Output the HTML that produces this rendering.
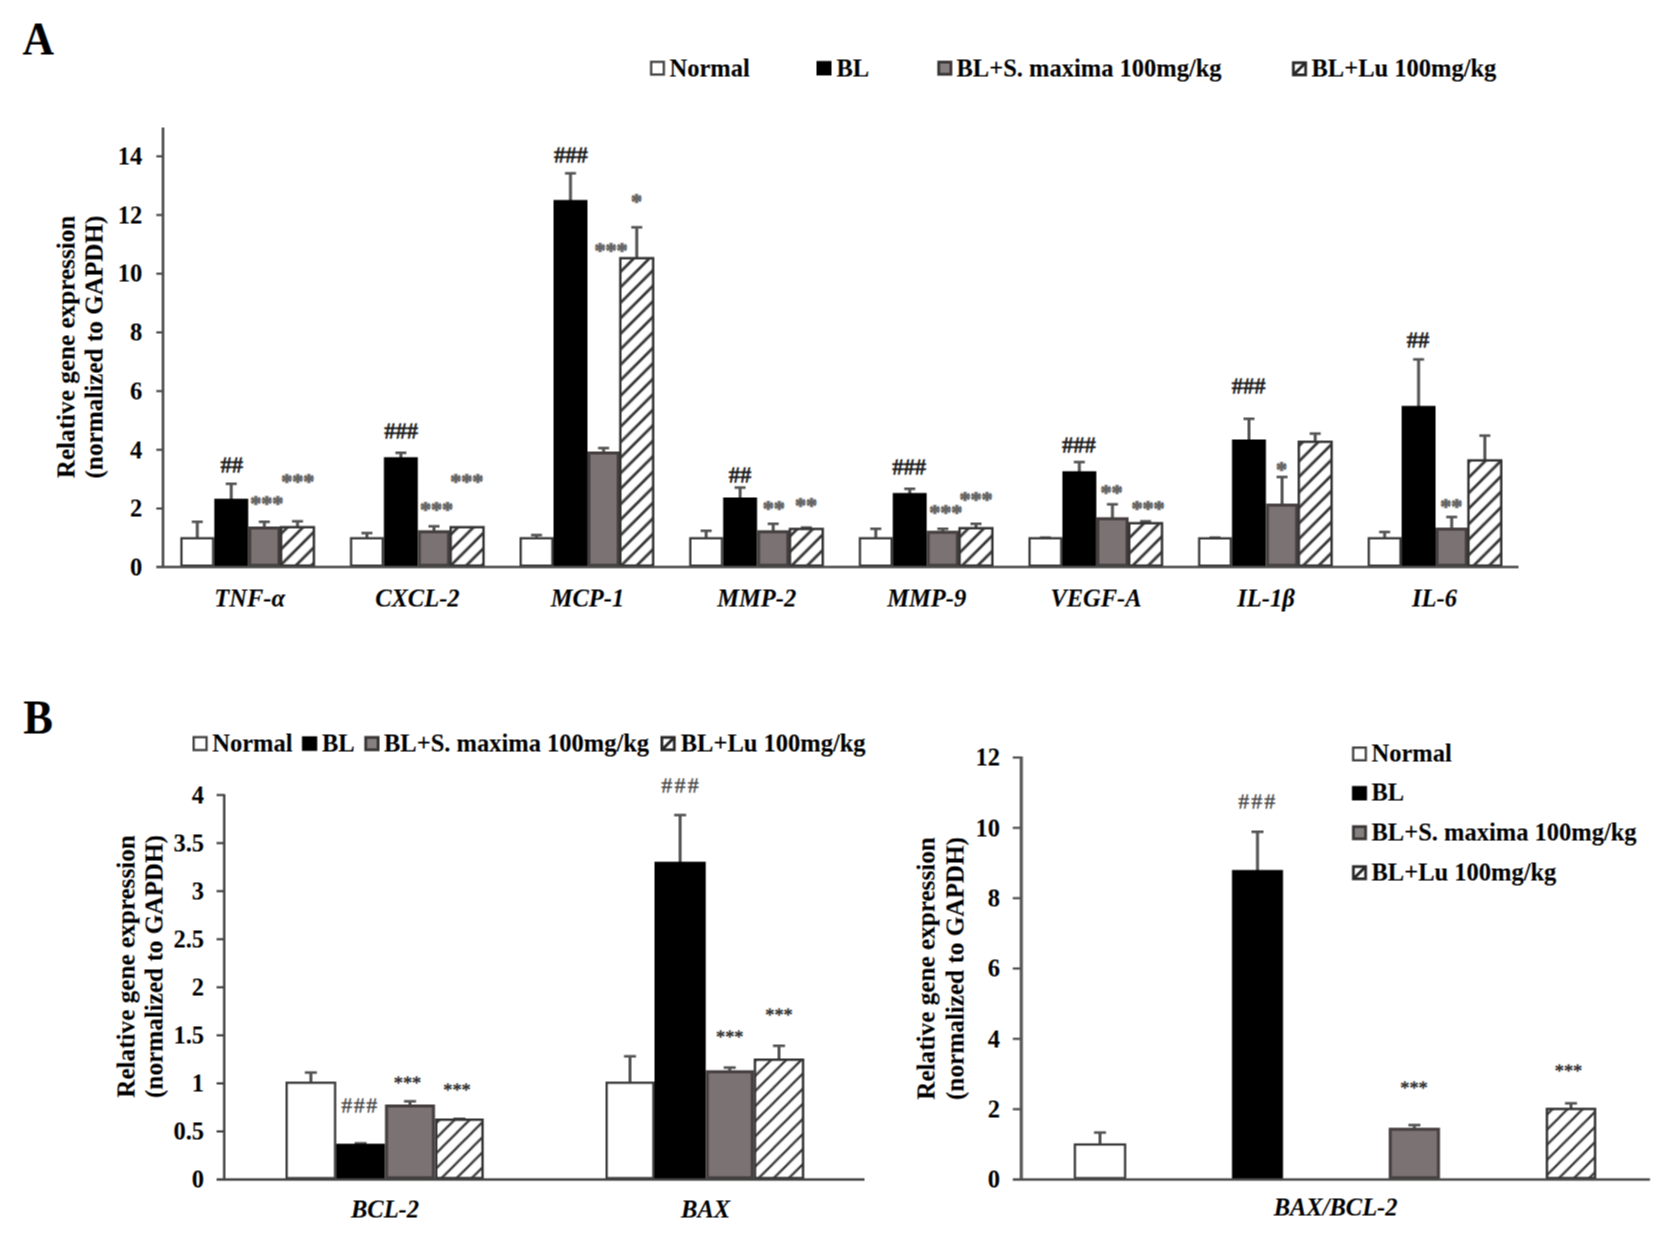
<!DOCTYPE html>
<html lang="en"><head><meta charset="utf-8"><title>Figure</title>
<style>html,body{margin:0;padding:0;background:#fff}body{width:1680px;height:1239px;overflow:hidden}svg{display:block}text{font-family:'Liberation Serif', 'DejaVu Serif', serif}</style></head><body>
<svg width="1680" height="1239" viewBox="0 0 1680 1239">
<defs><pattern id="hatch" patternUnits="userSpaceOnUse" width="15.5" height="15.5" patternTransform="translate(8.8 0)"><rect width="15.5" height="15.5" fill="#fff"/><path d="M-7.75 7.75L7.75 -7.75M0 15.5L15.5 0M7.75 23.25L23.25 7.75" stroke="#333" stroke-width="2.7"/></pattern><pattern id="hatchB" patternUnits="userSpaceOnUse" width="15.1" height="15.1" patternTransform="translate(4 0)"><rect width="15.1" height="15.1" fill="#fff"/><path d="M-7.55 7.55L7.55 -7.55M0 15.1L15.1 0M7.55 22.65L22.65 7.55" stroke="#333" stroke-width="2.2"/></pattern></defs>
<rect width="1680" height="1239" fill="#fff"/>
<g id="fig" transform="translate(-0.5 -0.5)">
<rect x="-2" y="-2" width="1684" height="1243" fill="#fff"/>
<text transform="translate(22.6 54.4) scale(1 1.07)" font-size="43.6" font-weight="bold">A</text>
<text transform="translate(23.2 733.6) scale(1 1.07)" font-size="44.5" font-weight="bold">B</text>
<rect x="651.15" y="61.85" width="12.70" height="12.70" fill="#fff" stroke="#444" stroke-width="2.3"/>
<text x="669.50" y="76.60" font-size="24.5" text-anchor="start" font-weight="bold" font-style="normal" fill="#000" >Normal</text>
<rect x="816.50" y="61.00" width="15.00" height="14.40" fill="#000"/>
<text x="836.50" y="76.60" font-size="24.5" text-anchor="start" font-weight="bold" font-style="normal" fill="#000" >BL</text>
<rect x="938.70" y="62.10" width="12.20" height="12.20" fill="#857f7f" stroke="#3a3636" stroke-width="2.8"/>
<text x="956.50" y="76.60" font-size="24.5" text-anchor="start" font-weight="bold" font-style="normal" fill="#000" >BL+S. maxima 100mg/kg</text>
<rect x="1293.40" y="62.70" width="12.20" height="12.20" fill="#fff" stroke="#2a2a2a" stroke-width="2.8"/>
<path d="M1294.50 73.80L1304.50 63.80" stroke="#2a2a2a" stroke-width="3"/>
<text x="1311.50" y="76.60" font-size="24.5" text-anchor="start" font-weight="bold" font-style="normal" fill="#000" >BL+Lu 100mg/kg</text>
<path d="M197.30 538.50V521.50" stroke="#555" stroke-width="3" fill="none"/>
<path d="M191.80 521.80H202.80" stroke="#555" stroke-width="2.6" fill="none"/>
<rect x="181.45" y="538.25" width="31.70" height="27.40" fill="#fff" stroke="#3c3c3c" stroke-width="2.3"/>
<path d="M231.25 499.75V483.50" stroke="#555" stroke-width="3" fill="none"/>
<path d="M225.75 483.80H236.75" stroke="#555" stroke-width="2.6" fill="none"/>
<rect x="214.30" y="498.75" width="33.90" height="68.25" fill="#000"/>
<path d="M264.35 528.50V521.50" stroke="#555" stroke-width="3" fill="none"/>
<path d="M258.85 521.80H269.85" stroke="#555" stroke-width="2.6" fill="none"/>
<rect x="249.70" y="528.00" width="29.30" height="37.30" fill="#7b7373" stroke="#463f3f" stroke-width="3"/>
<path d="M297.50 528.00V521.00" stroke="#555" stroke-width="3" fill="none"/>
<path d="M292.00 521.30H303.00" stroke="#555" stroke-width="2.6" fill="none"/>
<rect x="281.10" y="527.20" width="32.80" height="38.40" fill="url(#hatch)" stroke="#333" stroke-width="2.4"/>
<text x="249.60" y="606.00" font-size="24.5" text-anchor="middle" font-weight="bold" font-style="italic" fill="#000" >TNF-α</text>
<path d="M366.92 538.50V532.75" stroke="#555" stroke-width="3" fill="none"/>
<path d="M361.42 533.05H372.42" stroke="#555" stroke-width="2.6" fill="none"/>
<rect x="351.07" y="538.25" width="31.70" height="27.40" fill="#fff" stroke="#3c3c3c" stroke-width="2.3"/>
<path d="M400.87 458.20V452.50" stroke="#555" stroke-width="3" fill="none"/>
<path d="M395.37 452.80H406.37" stroke="#555" stroke-width="2.6" fill="none"/>
<rect x="383.92" y="457.20" width="33.90" height="109.80" fill="#000"/>
<path d="M433.97 532.25V526.00" stroke="#555" stroke-width="3" fill="none"/>
<path d="M428.47 526.30H439.47" stroke="#555" stroke-width="2.6" fill="none"/>
<rect x="419.32" y="531.75" width="29.30" height="33.55" fill="#7b7373" stroke="#463f3f" stroke-width="3"/>
<rect x="450.72" y="527.20" width="32.80" height="38.40" fill="url(#hatch)" stroke="#333" stroke-width="2.4"/>
<text x="417.40" y="606.00" font-size="24.5" text-anchor="middle" font-weight="bold" font-style="italic" fill="#000" >CXCL-2</text>
<path d="M536.54 538.50V534.75" stroke="#555" stroke-width="3" fill="none"/>
<path d="M531.04 535.05H542.04" stroke="#555" stroke-width="2.6" fill="none"/>
<rect x="520.69" y="538.25" width="31.70" height="27.40" fill="#fff" stroke="#3c3c3c" stroke-width="2.3"/>
<path d="M570.49 201.00V173.00" stroke="#555" stroke-width="3" fill="none"/>
<path d="M564.99 173.30H575.99" stroke="#555" stroke-width="2.6" fill="none"/>
<rect x="553.54" y="200.00" width="33.90" height="367.00" fill="#000"/>
<path d="M603.59 453.50V447.75" stroke="#555" stroke-width="3" fill="none"/>
<path d="M598.09 448.05H609.09" stroke="#555" stroke-width="2.6" fill="none"/>
<rect x="588.94" y="453.00" width="29.30" height="112.30" fill="#7b7373" stroke="#463f3f" stroke-width="3"/>
<path d="M636.74 259.00V227.00" stroke="#555" stroke-width="3" fill="none"/>
<path d="M631.24 227.30H642.24" stroke="#555" stroke-width="2.6" fill="none"/>
<rect x="620.34" y="258.20" width="32.80" height="307.40" fill="url(#hatch)" stroke="#333" stroke-width="2.4"/>
<text x="587.40" y="606.00" font-size="24.5" text-anchor="middle" font-weight="bold" font-style="italic" fill="#000" >MCP-1</text>
<path d="M706.16 538.50V530.50" stroke="#555" stroke-width="3" fill="none"/>
<path d="M700.66 530.80H711.66" stroke="#555" stroke-width="2.6" fill="none"/>
<rect x="690.31" y="538.25" width="31.70" height="27.40" fill="#fff" stroke="#3c3c3c" stroke-width="2.3"/>
<path d="M740.11 498.50V487.25" stroke="#555" stroke-width="3" fill="none"/>
<path d="M734.61 487.55H745.61" stroke="#555" stroke-width="2.6" fill="none"/>
<rect x="723.16" y="497.50" width="33.90" height="69.50" fill="#000"/>
<path d="M773.21 532.25V523.50" stroke="#555" stroke-width="3" fill="none"/>
<path d="M767.71 523.80H778.71" stroke="#555" stroke-width="2.6" fill="none"/>
<rect x="758.56" y="531.75" width="29.30" height="33.55" fill="#7b7373" stroke="#463f3f" stroke-width="3"/>
<path d="M806.36 529.75V527.25" stroke="#555" stroke-width="3" fill="none"/>
<path d="M800.86 527.55H811.86" stroke="#555" stroke-width="2.6" fill="none"/>
<rect x="789.96" y="528.95" width="32.80" height="36.65" fill="url(#hatch)" stroke="#333" stroke-width="2.4"/>
<text x="756.75" y="606.00" font-size="24.5" text-anchor="middle" font-weight="bold" font-style="italic" fill="#000" >MMP-2</text>
<path d="M875.78 538.50V528.50" stroke="#555" stroke-width="3" fill="none"/>
<path d="M870.28 528.80H881.28" stroke="#555" stroke-width="2.6" fill="none"/>
<rect x="859.93" y="538.25" width="31.70" height="27.40" fill="#fff" stroke="#3c3c3c" stroke-width="2.3"/>
<path d="M909.73 494.00V488.50" stroke="#555" stroke-width="3" fill="none"/>
<path d="M904.23 488.80H915.23" stroke="#555" stroke-width="2.6" fill="none"/>
<rect x="892.78" y="493.00" width="33.90" height="74.00" fill="#000"/>
<path d="M942.83 532.75V528.50" stroke="#555" stroke-width="3" fill="none"/>
<path d="M937.33 528.80H948.33" stroke="#555" stroke-width="2.6" fill="none"/>
<rect x="928.18" y="532.25" width="29.30" height="33.05" fill="#7b7373" stroke="#463f3f" stroke-width="3"/>
<path d="M975.98 529.00V523.50" stroke="#555" stroke-width="3" fill="none"/>
<path d="M970.48 523.80H981.48" stroke="#555" stroke-width="2.6" fill="none"/>
<rect x="959.58" y="528.20" width="32.80" height="37.40" fill="url(#hatch)" stroke="#333" stroke-width="2.4"/>
<text x="926.75" y="606.00" font-size="24.5" text-anchor="middle" font-weight="bold" font-style="italic" fill="#000" >MMP-9</text>
<path d="M1045.40 538.50V537.30" stroke="#555" stroke-width="3" fill="none"/>
<path d="M1039.90 537.60H1050.90" stroke="#555" stroke-width="2.6" fill="none"/>
<rect x="1029.55" y="538.25" width="31.70" height="27.40" fill="#fff" stroke="#3c3c3c" stroke-width="2.3"/>
<path d="M1079.35 472.25V461.75" stroke="#555" stroke-width="3" fill="none"/>
<path d="M1073.85 462.05H1084.85" stroke="#555" stroke-width="2.6" fill="none"/>
<rect x="1062.40" y="471.25" width="33.90" height="95.75" fill="#000"/>
<path d="M1112.45 519.25V504.00" stroke="#555" stroke-width="3" fill="none"/>
<path d="M1106.95 504.30H1117.95" stroke="#555" stroke-width="2.6" fill="none"/>
<rect x="1097.80" y="518.75" width="29.30" height="46.55" fill="#7b7373" stroke="#463f3f" stroke-width="3"/>
<path d="M1145.60 524.00V521.00" stroke="#555" stroke-width="3" fill="none"/>
<path d="M1140.10 521.30H1151.10" stroke="#555" stroke-width="2.6" fill="none"/>
<rect x="1129.20" y="523.20" width="32.80" height="42.40" fill="url(#hatch)" stroke="#333" stroke-width="2.4"/>
<text x="1096.00" y="606.00" font-size="24.5" text-anchor="middle" font-weight="bold" font-style="italic" fill="#000" >VEGF-A</text>
<path d="M1215.02 538.60V537.30" stroke="#555" stroke-width="3" fill="none"/>
<path d="M1209.52 537.60H1220.52" stroke="#555" stroke-width="2.6" fill="none"/>
<rect x="1199.17" y="538.35" width="31.70" height="27.30" fill="#fff" stroke="#3c3c3c" stroke-width="2.3"/>
<path d="M1248.97 440.50V418.50" stroke="#555" stroke-width="3" fill="none"/>
<path d="M1243.47 418.80H1254.47" stroke="#555" stroke-width="2.6" fill="none"/>
<rect x="1232.02" y="439.50" width="33.90" height="127.50" fill="#000"/>
<path d="M1282.07 505.60V476.70" stroke="#555" stroke-width="3" fill="none"/>
<path d="M1276.57 477.00H1287.57" stroke="#555" stroke-width="2.6" fill="none"/>
<rect x="1267.42" y="505.10" width="29.30" height="60.20" fill="#7b7373" stroke="#463f3f" stroke-width="3"/>
<path d="M1315.22 442.60V433.30" stroke="#555" stroke-width="3" fill="none"/>
<path d="M1309.72 433.60H1320.72" stroke="#555" stroke-width="2.6" fill="none"/>
<rect x="1298.82" y="441.80" width="32.80" height="123.80" fill="url(#hatch)" stroke="#333" stroke-width="2.4"/>
<text x="1266.00" y="606.00" font-size="24.5" text-anchor="middle" font-weight="bold" font-style="italic" fill="#000" >IL-1β</text>
<path d="M1384.64 538.50V531.70" stroke="#555" stroke-width="3" fill="none"/>
<path d="M1379.14 532.00H1390.14" stroke="#555" stroke-width="2.6" fill="none"/>
<rect x="1368.79" y="538.25" width="31.70" height="27.40" fill="#fff" stroke="#3c3c3c" stroke-width="2.3"/>
<path d="M1418.59 406.90V359.10" stroke="#555" stroke-width="3" fill="none"/>
<path d="M1413.09 359.40H1424.09" stroke="#555" stroke-width="2.6" fill="none"/>
<rect x="1401.64" y="405.90" width="33.90" height="161.10" fill="#000"/>
<path d="M1451.69 529.60V516.70" stroke="#555" stroke-width="3" fill="none"/>
<path d="M1446.19 517.00H1457.19" stroke="#555" stroke-width="2.6" fill="none"/>
<rect x="1437.04" y="529.10" width="29.30" height="36.20" fill="#7b7373" stroke="#463f3f" stroke-width="3"/>
<path d="M1484.84 461.20V435.30" stroke="#555" stroke-width="3" fill="none"/>
<path d="M1479.34 435.60H1490.34" stroke="#555" stroke-width="2.6" fill="none"/>
<rect x="1468.44" y="460.40" width="32.80" height="105.20" fill="url(#hatch)" stroke="#333" stroke-width="2.4"/>
<text x="1434.50" y="606.00" font-size="24.5" text-anchor="middle" font-weight="bold" font-style="italic" fill="#000" >IL-6</text>
<path d="M163 127.5V568.2M156.3 567.0H1518.5" stroke="#4c4c4c" stroke-width="2.6" fill="none"/>
<text x="142.30" y="575.40" font-size="24.5" text-anchor="end" font-weight="bold" font-style="normal" fill="#000" >0</text>
<path d="M156.3 508.50H163" stroke="#4c4c4c" stroke-width="2.2"/>
<text x="142.30" y="516.70" font-size="24.5" text-anchor="end" font-weight="bold" font-style="normal" fill="#000" >2</text>
<path d="M156.3 449.80H163" stroke="#4c4c4c" stroke-width="2.2"/>
<text x="142.30" y="458.00" font-size="24.5" text-anchor="end" font-weight="bold" font-style="normal" fill="#000" >4</text>
<path d="M156.3 391.10H163" stroke="#4c4c4c" stroke-width="2.2"/>
<text x="142.30" y="399.30" font-size="24.5" text-anchor="end" font-weight="bold" font-style="normal" fill="#000" >6</text>
<path d="M156.3 332.40H163" stroke="#4c4c4c" stroke-width="2.2"/>
<text x="142.30" y="340.60" font-size="24.5" text-anchor="end" font-weight="bold" font-style="normal" fill="#000" >8</text>
<path d="M156.3 273.70H163" stroke="#4c4c4c" stroke-width="2.2"/>
<text x="142.30" y="281.90" font-size="24.5" text-anchor="end" font-weight="bold" font-style="normal" fill="#000" >10</text>
<path d="M156.3 215.00H163" stroke="#4c4c4c" stroke-width="2.2"/>
<text x="142.30" y="223.20" font-size="24.5" text-anchor="end" font-weight="bold" font-style="normal" fill="#000" >12</text>
<path d="M156.3 156.30H163" stroke="#4c4c4c" stroke-width="2.2"/>
<text x="142.30" y="164.50" font-size="24.5" text-anchor="end" font-weight="bold" font-style="normal" fill="#000" >14</text>
<text transform="translate(74.40 347.00) rotate(-90)" font-size="25.2" text-anchor="middle" font-weight="bold">Relative gene expression</text>
<text transform="translate(102.90 347.00) rotate(-90)" font-size="25.2" text-anchor="middle" font-weight="bold">(normalized to GAPDH)</text>
<text x="231.75" y="472.31" font-size="22.5" text-anchor="middle" font-weight="normal" font-style="normal" fill="#1a1a1a" stroke="#1a1a1a" stroke-width="0.7">##</text>
<text x="401.00" y="438.31" font-size="22.5" text-anchor="middle" font-weight="normal" font-style="normal" fill="#1a1a1a" stroke="#1a1a1a" stroke-width="0.7">###</text>
<text x="570.75" y="162.31" font-size="22.5" text-anchor="middle" font-weight="normal" font-style="normal" fill="#1a1a1a" stroke="#1a1a1a" stroke-width="0.7">###</text>
<text x="740.00" y="482.31" font-size="22.5" text-anchor="middle" font-weight="normal" font-style="normal" fill="#1a1a1a" stroke="#1a1a1a" stroke-width="0.7">##</text>
<text x="909.00" y="474.81" font-size="22.5" text-anchor="middle" font-weight="normal" font-style="normal" fill="#1a1a1a" stroke="#1a1a1a" stroke-width="0.7">###</text>
<text x="1078.75" y="452.81" font-size="22.5" text-anchor="middle" font-weight="normal" font-style="normal" fill="#1a1a1a" stroke="#1a1a1a" stroke-width="0.7">###</text>
<text x="1248.50" y="393.81" font-size="22.5" text-anchor="middle" font-weight="normal" font-style="normal" fill="#1a1a1a" stroke="#1a1a1a" stroke-width="0.7">###</text>
<text x="1418.00" y="347.31" font-size="22.5" text-anchor="middle" font-weight="normal" font-style="normal" fill="#1a1a1a" stroke="#1a1a1a" stroke-width="0.7">##</text>
<text x="266.75" y="510.34" font-size="22" text-anchor="middle" font-weight="bold" font-style="normal" fill="#666" stroke="#666" stroke-width="0.9">***</text>
<text x="297.75" y="488.34" font-size="22" text-anchor="middle" font-weight="bold" font-style="normal" fill="#666" stroke="#666" stroke-width="0.9">***</text>
<text x="436.40" y="516.74" font-size="22" text-anchor="middle" font-weight="bold" font-style="normal" fill="#666" stroke="#666" stroke-width="0.9">***</text>
<text x="466.80" y="488.24" font-size="22" text-anchor="middle" font-weight="bold" font-style="normal" fill="#666" stroke="#666" stroke-width="0.9">***</text>
<text x="611.00" y="257.84" font-size="22" text-anchor="middle" font-weight="bold" font-style="normal" fill="#666" stroke="#666" stroke-width="0.9">***</text>
<text x="636.50" y="208.34" font-size="22" text-anchor="middle" font-weight="bold" font-style="normal" fill="#666" stroke="#666" stroke-width="0.9">*</text>
<text x="773.75" y="515.34" font-size="22" text-anchor="middle" font-weight="bold" font-style="normal" fill="#666" stroke="#666" stroke-width="0.9">**</text>
<text x="806.00" y="512.34" font-size="22" text-anchor="middle" font-weight="bold" font-style="normal" fill="#666" stroke="#666" stroke-width="0.9">**</text>
<text x="945.75" y="519.34" font-size="22" text-anchor="middle" font-weight="bold" font-style="normal" fill="#666" stroke="#666" stroke-width="0.9">***</text>
<text x="976.00" y="506.09" font-size="22" text-anchor="middle" font-weight="bold" font-style="normal" fill="#666" stroke="#666" stroke-width="0.9">***</text>
<text x="1111.50" y="499.09" font-size="22" text-anchor="middle" font-weight="bold" font-style="normal" fill="#666" stroke="#666" stroke-width="0.9">**</text>
<text x="1148.00" y="515.34" font-size="22" text-anchor="middle" font-weight="bold" font-style="normal" fill="#666" stroke="#666" stroke-width="0.9">***</text>
<text x="1281.60" y="476.94" font-size="22" text-anchor="middle" font-weight="bold" font-style="normal" fill="#666" stroke="#666" stroke-width="0.9">*</text>
<text x="1451.30" y="513.14" font-size="22" text-anchor="middle" font-weight="bold" font-style="normal" fill="#666" stroke="#666" stroke-width="0.9">**</text>
<rect x="193.65" y="737.15" width="12.90" height="12.90" fill="#fff" stroke="#444" stroke-width="2.3"/>
<text x="212.20" y="751.40" font-size="24.5" text-anchor="start" font-weight="bold" font-style="normal" fill="#000" >Normal</text>
<rect x="302.00" y="736.30" width="15.20" height="14.60" fill="#000"/>
<text x="322.00" y="751.40" font-size="24.5" text-anchor="start" font-weight="bold" font-style="normal" fill="#000" >BL</text>
<rect x="365.70" y="737.40" width="12.40" height="12.40" fill="#857f7f" stroke="#3a3636" stroke-width="2.8"/>
<text x="384.00" y="751.40" font-size="24.5" text-anchor="start" font-weight="bold" font-style="normal" fill="#000" >BL+S. maxima 100mg/kg</text>
<rect x="661.90" y="737.40" width="12.40" height="12.40" fill="#fff" stroke="#2a2a2a" stroke-width="2.8"/>
<path d="M663.00 748.70L673.20 738.50" stroke="#2a2a2a" stroke-width="3"/>
<text x="680.75" y="751.40" font-size="24.5" text-anchor="start" font-weight="bold" font-style="normal" fill="#000" >BL+Lu 100mg/kg</text>
<path d="M310.88 1083.00V1072.25" stroke="#555" stroke-width="3" fill="none"/>
<path d="M304.88 1072.55H316.88" stroke="#555" stroke-width="2.6" fill="none"/>
<rect x="286.65" y="1082.75" width="48.45" height="95.40" fill="#fff" stroke="#3c3c3c" stroke-width="2.3"/>
<path d="M360.62 1144.75V1143.00" stroke="#555" stroke-width="3" fill="none"/>
<path d="M354.62 1143.30H366.62" stroke="#555" stroke-width="2.6" fill="none"/>
<rect x="336.25" y="1143.75" width="48.75" height="35.75" fill="#000"/>
<path d="M410.00 1106.50V1101.00" stroke="#555" stroke-width="3" fill="none"/>
<path d="M404.00 1101.30H416.00" stroke="#555" stroke-width="2.6" fill="none"/>
<rect x="386.50" y="1106.00" width="47.00" height="71.80" fill="#7b7373" stroke="#463f3f" stroke-width="3"/>
<path d="M459.38 1120.50V1118.50" stroke="#555" stroke-width="3" fill="none"/>
<path d="M453.38 1118.80H465.38" stroke="#555" stroke-width="2.6" fill="none"/>
<rect x="436.20" y="1119.70" width="46.35" height="58.40" fill="url(#hatchB)" stroke="#333" stroke-width="2.4"/>
<text x="385.00" y="1217.50" font-size="24.5" text-anchor="middle" font-weight="bold" font-style="italic" fill="#000" >BCL-2</text>
<path d="M630.00 1083.00V1056.00" stroke="#555" stroke-width="3" fill="none"/>
<path d="M624.00 1056.30H636.00" stroke="#555" stroke-width="2.6" fill="none"/>
<rect x="606.65" y="1082.75" width="46.70" height="95.40" fill="#fff" stroke="#3c3c3c" stroke-width="2.3"/>
<path d="M680.12 862.75V814.75" stroke="#555" stroke-width="3" fill="none"/>
<path d="M674.12 815.05H686.12" stroke="#555" stroke-width="2.6" fill="none"/>
<rect x="654.50" y="861.75" width="51.25" height="317.75" fill="#000"/>
<path d="M729.75 1072.25V1067.25" stroke="#555" stroke-width="3" fill="none"/>
<path d="M723.75 1067.55H735.75" stroke="#555" stroke-width="2.6" fill="none"/>
<rect x="707.25" y="1071.75" width="45.00" height="106.05" fill="#7b7373" stroke="#463f3f" stroke-width="3"/>
<path d="M779.00 1060.50V1045.50" stroke="#555" stroke-width="3" fill="none"/>
<path d="M773.00 1045.80H785.00" stroke="#555" stroke-width="2.6" fill="none"/>
<rect x="754.95" y="1059.70" width="48.10" height="118.40" fill="url(#hatchB)" stroke="#333" stroke-width="2.4"/>
<text x="705.60" y="1217.50" font-size="24.5" text-anchor="middle" font-weight="bold" font-style="italic" fill="#000" >BAX</text>
<path d="M224.2 794.2V1180.6M216.6 1179.5H864.5" stroke="#444" stroke-width="2.4" fill="none"/>
<text x="204.00" y="1187.70" font-size="24.5" text-anchor="end" font-weight="bold" font-style="normal" fill="#000" >0</text>
<path d="M216.6 1131.44H224.2" stroke="#444" stroke-width="2.2"/>
<text x="204.00" y="1139.64" font-size="24.5" text-anchor="end" font-weight="bold" font-style="normal" fill="#000" >0.5</text>
<path d="M216.6 1083.38H224.2" stroke="#444" stroke-width="2.2"/>
<text x="204.00" y="1091.58" font-size="24.5" text-anchor="end" font-weight="bold" font-style="normal" fill="#000" >1</text>
<path d="M216.6 1035.32H224.2" stroke="#444" stroke-width="2.2"/>
<text x="204.00" y="1043.52" font-size="24.5" text-anchor="end" font-weight="bold" font-style="normal" fill="#000" >1.5</text>
<path d="M216.6 987.26H224.2" stroke="#444" stroke-width="2.2"/>
<text x="204.00" y="995.46" font-size="24.5" text-anchor="end" font-weight="bold" font-style="normal" fill="#000" >2</text>
<path d="M216.6 939.20H224.2" stroke="#444" stroke-width="2.2"/>
<text x="204.00" y="947.40" font-size="24.5" text-anchor="end" font-weight="bold" font-style="normal" fill="#000" >2.5</text>
<path d="M216.6 891.14H224.2" stroke="#444" stroke-width="2.2"/>
<text x="204.00" y="899.34" font-size="24.5" text-anchor="end" font-weight="bold" font-style="normal" fill="#000" >3</text>
<path d="M216.6 843.08H224.2" stroke="#444" stroke-width="2.2"/>
<text x="204.00" y="851.28" font-size="24.5" text-anchor="end" font-weight="bold" font-style="normal" fill="#000" >3.5</text>
<path d="M216.6 795.02H224.2" stroke="#444" stroke-width="2.2"/>
<text x="204.00" y="803.22" font-size="24.5" text-anchor="end" font-weight="bold" font-style="normal" fill="#000" >4</text>
<text transform="translate(134.40 966.50) rotate(-90)" font-size="25.2" text-anchor="middle" font-weight="bold">Relative gene expression</text>
<text transform="translate(162.90 966.50) rotate(-90)" font-size="25.2" text-anchor="middle" font-weight="bold">(normalized to GAPDH)</text>
<text x="360.05" y="1112.65" font-size="22" text-anchor="middle" font-weight="normal" font-style="normal" fill="#444" letter-spacing="1.6" stroke="#444" stroke-width="0.3">###</text>
<text x="681.15" y="792.15" font-size="22" text-anchor="middle" font-weight="normal" font-style="normal" fill="#444" letter-spacing="2.3" stroke="#444" stroke-width="0.3">###</text>
<text x="407.50" y="1089.10" font-size="18.3" text-anchor="middle" font-weight="normal" font-style="normal" fill="#333" stroke="#333" stroke-width="0.5">***</text>
<text x="457.00" y="1096.85" font-size="18.3" text-anchor="middle" font-weight="normal" font-style="normal" fill="#333" stroke="#333" stroke-width="0.5">***</text>
<text x="729.75" y="1043.10" font-size="18.3" text-anchor="middle" font-weight="normal" font-style="normal" fill="#333" stroke="#333" stroke-width="0.5">***</text>
<text x="779.00" y="1021.85" font-size="18.3" text-anchor="middle" font-weight="normal" font-style="normal" fill="#333" stroke="#333" stroke-width="0.5">***</text>
<rect x="1353.15" y="747.60" width="12.70" height="12.70" fill="#fff" stroke="#444" stroke-width="2.3"/>
<text x="1371.50" y="761.45" font-size="24.5" text-anchor="start" font-weight="bold" font-style="normal" fill="#000" >Normal</text>
<rect x="1352.00" y="786.00" width="15.00" height="14.40" fill="#000"/>
<text x="1371.50" y="800.70" font-size="24.5" text-anchor="start" font-weight="bold" font-style="normal" fill="#000" >BL</text>
<rect x="1353.40" y="826.60" width="12.20" height="12.20" fill="#857f7f" stroke="#3a3636" stroke-width="2.8"/>
<text x="1371.50" y="840.20" font-size="24.5" text-anchor="start" font-weight="bold" font-style="normal" fill="#000" >BL+S. maxima 100mg/kg</text>
<rect x="1353.40" y="866.60" width="12.20" height="12.20" fill="#fff" stroke="#2a2a2a" stroke-width="2.8"/>
<path d="M1354.50 877.70L1364.50 867.70" stroke="#2a2a2a" stroke-width="3"/>
<text x="1371.50" y="880.20" font-size="24.5" text-anchor="start" font-weight="bold" font-style="normal" fill="#000" >BL+Lu 100mg/kg</text>
<path d="M1100.00 1144.75V1132.25" stroke="#555" stroke-width="3" fill="none"/>
<path d="M1094.00 1132.55H1106.00" stroke="#555" stroke-width="2.6" fill="none"/>
<rect x="1074.90" y="1144.50" width="50.20" height="33.65" fill="#fff" stroke="#3c3c3c" stroke-width="2.3"/>
<path d="M1257.50 871.00V831.50" stroke="#555" stroke-width="3" fill="none"/>
<path d="M1251.50 831.80H1263.50" stroke="#555" stroke-width="2.6" fill="none"/>
<rect x="1232.00" y="870.00" width="51.00" height="309.50" fill="#000"/>
<path d="M1414.38 1129.75V1124.75" stroke="#555" stroke-width="3" fill="none"/>
<path d="M1408.38 1125.05H1420.38" stroke="#555" stroke-width="2.6" fill="none"/>
<rect x="1390.25" y="1129.25" width="48.25" height="48.55" fill="#7b7373" stroke="#463f3f" stroke-width="3"/>
<path d="M1571.00 1109.75V1103.00" stroke="#555" stroke-width="3" fill="none"/>
<path d="M1565.00 1103.30H1577.00" stroke="#555" stroke-width="2.6" fill="none"/>
<rect x="1546.95" y="1108.95" width="48.10" height="69.15" fill="url(#hatchB)" stroke="#333" stroke-width="2.4"/>
<text x="1335.60" y="1215.00" font-size="24.5" text-anchor="middle" font-weight="bold" font-style="italic" fill="#000" >BAX/BCL-2</text>
<path d="M1021.3 756.6V1180.6" stroke="#5a5a5a" stroke-width="3.2" fill="none"/><path d="M1012.8 1179.5H1650" stroke="#4c4c4c" stroke-width="2.4" fill="none"/>
<text x="1000.00" y="1187.70" font-size="24.5" text-anchor="end" font-weight="bold" font-style="normal" fill="#000" >0</text>
<path d="M1012.8 1109.17H1021.3" stroke="#555" stroke-width="2.3"/>
<text x="1000.00" y="1117.37" font-size="24.5" text-anchor="end" font-weight="bold" font-style="normal" fill="#000" >2</text>
<path d="M1012.8 1038.84H1021.3" stroke="#555" stroke-width="2.3"/>
<text x="1000.00" y="1047.04" font-size="24.5" text-anchor="end" font-weight="bold" font-style="normal" fill="#000" >4</text>
<path d="M1012.8 968.51H1021.3" stroke="#555" stroke-width="2.3"/>
<text x="1000.00" y="976.71" font-size="24.5" text-anchor="end" font-weight="bold" font-style="normal" fill="#000" >6</text>
<path d="M1012.8 898.18H1021.3" stroke="#555" stroke-width="2.3"/>
<text x="1000.00" y="906.38" font-size="24.5" text-anchor="end" font-weight="bold" font-style="normal" fill="#000" >8</text>
<path d="M1012.8 827.85H1021.3" stroke="#555" stroke-width="2.3"/>
<text x="1000.00" y="836.05" font-size="24.5" text-anchor="end" font-weight="bold" font-style="normal" fill="#000" >10</text>
<path d="M1012.8 757.52H1021.3" stroke="#555" stroke-width="2.3"/>
<text x="1000.00" y="765.72" font-size="24.5" text-anchor="end" font-weight="bold" font-style="normal" fill="#000" >12</text>
<text transform="translate(934.60 968.50) rotate(-90)" font-size="25.2" text-anchor="middle" font-weight="bold">Relative gene expression</text>
<text transform="translate(963.00 968.50) rotate(-90)" font-size="25.2" text-anchor="middle" font-weight="bold">(normalized to GAPDH)</text>
<text x="1257.75" y="808.40" font-size="22" text-anchor="middle" font-weight="normal" font-style="normal" fill="#444" letter-spacing="2.0" stroke="#444" stroke-width="0.3">###</text>
<text x="1414.00" y="1094.85" font-size="18.3" text-anchor="middle" font-weight="normal" font-style="normal" fill="#333" stroke="#333" stroke-width="0.5">***</text>
<text x="1568.50" y="1077.35" font-size="18.3" text-anchor="middle" font-weight="normal" font-style="normal" fill="#333" stroke="#333" stroke-width="0.5">***</text>
</g>
<use href="#fig" x="1.0" y="0" opacity="0.5000"/>
<use href="#fig" x="0" y="1.0" opacity="0.3333"/>
<use href="#fig" x="1.0" y="1.0" opacity="0.2500"/>
</svg></body></html>
